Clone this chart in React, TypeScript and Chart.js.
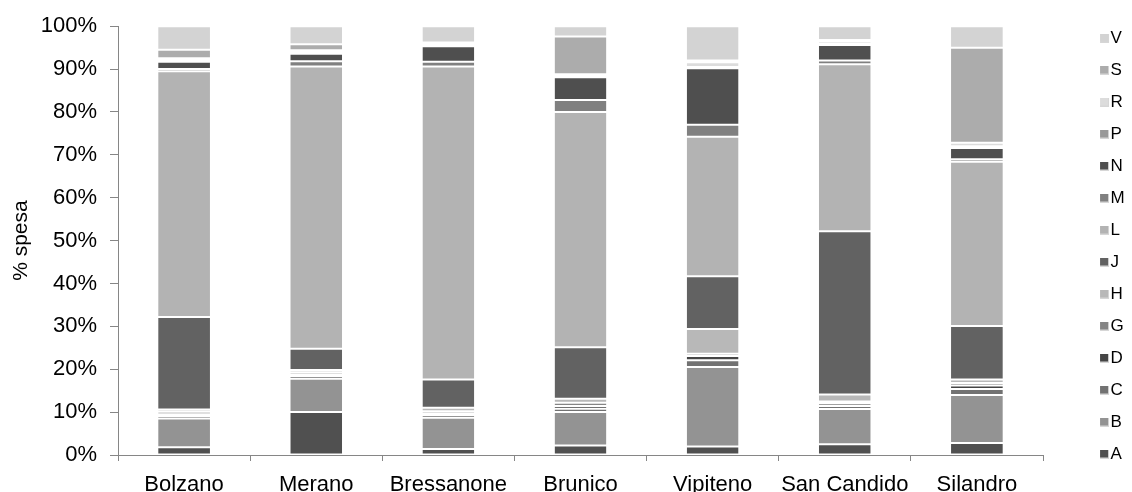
import React, { useEffect, useRef } from "react";
import { Chart, registerables } from "chart.js";

Chart.register(...registerables);

const categories = ["Bolzano", "Merano", "Bressanone", "Brunico", "Vipiteno", "San Candido", "Silandro"];

const seriesNames = ["A", "B", "C", "D", "G", "H", "J", "L", "M", "N", "P", "R", "S", "V"];

const A = [1.8, 10.0, 1.4, 2.2, 2.0, 2.5, 2.8];
const B = [6.7, 7.8, 7.3, 7.8, 18.5, 8.2, 11.2];
const C = [0.6, 0.6, 0.6, 0.8, 1.6, 0.7, 1.4];
const D = [0.4, 0.4, 0.4, 0.6, 1.0, 0.6, 0.8];
const G = [0.6, 0.5, 0.5, 0.8, 0.5, 0.5, 0.6];
const H = [0.5, 0.5, 0.8, 0.9, 5.8, 1.6, 0.8];
const J = [21.6, 5.0, 6.6, 12.0, 12.3, 38.1, 12.5];
const L = [57.3, 65.8, 73.0, 54.9, 32.5, 38.9, 38.3];
const M = [0.5, 1.2, 1.1, 2.8, 2.8, 0.9, 0.6];
const N = [1.7, 1.8, 3.6, 5.3, 13.2, 3.6, 2.6];
const P = [0.4, 0.4, 0.3, 0.4, 0.3, 0.3, 0.4];
const R = [0.4, 0.4, 0.4, 0.3, 1.1, 0.6, 0.8];
const S = [2.0, 1.4, 0.2, 8.8, 0.4, 0.3, 22.2];
const V = [5.5, 4.2, 3.8, 2.4, 8.0, 3.2, 5.0];

const seriesValues = [A, B, C, D, G, H, J, L, M, N, P, R, S, V];

const seriesColors = [
  "#505050", "#939393", "#727272", "#454545", "#858585", "#b8b8b8", "#626262",
  "#b3b3b3", "#808080", "#4f4f4f", "#999999", "#dcdcdc", "#acacac", "#d3d3d3",
];

const yTicks = [0, 10, 20, 30, 40, 50, 60, 70, 80, 90, 100];

const FONT = "'Liberation Sans', Arial, sans-serif";
const AXIS = "#868686";

function legendSwatch(color: string): HTMLCanvasElement {
  const c = document.createElement("canvas");
  c.width = 20;
  c.height = 9;
  const g = c.getContext("2d")!;
  g.fillStyle = color;
  g.fillRect(8, 0, 8, 8);
  g.fillStyle = "#d6d6d6";
  g.fillRect(16, 0, 1, 9);
  g.fillRect(8, 8, 9, 1);
  return c;
}

export default function App() {
  const ref = useRef<HTMLCanvasElement | null>(null);

  useEffect(() => {
    if (!ref.current) return;
    const swatches = seriesColors.map(legendSwatch);
    const chart = new Chart(ref.current, {
      type: "bar",
      data: {
        labels: categories,
        datasets: seriesNames.map((name, i) => ({
          label: name,
          data: seriesValues[i],
          backgroundColor: seriesColors[i],
          borderColor: "#ffffff",
          borderWidth: { top: 1, bottom: 1, left: 0, right: 0 },
          borderSkipped: false,
          categoryPercentage: 1,
          barPercentage: 0.392,
        })),
      },
      options: {
        responsive: false,
        animation: false,
        events: [],
        layout: { padding: 0 },
        plugins: {
          title: {
            display: true,
            text: " ",
            font: { size: 10, family: FONT },
            padding: { top: 14, bottom: 0 },
          },
          tooltip: { enabled: false },
          legend: {
            position: "right",
            reverse: true,
            maxWidth: 45,
            labels: {
              usePointStyle: true,
              pointStyleWidth: 0.01,
              boxHeight: 9,
              padding: 15,
              color: "#000000",
              font: { size: 17, family: FONT },
              generateLabels: (ch: any) =>
                ch.data.datasets.map((ds: any, i: number) => ({
                  text: ds.label,
                  fillStyle: ds.backgroundColor,
                  strokeStyle: "#d6d6d6",
                  lineWidth: 0,
                  pointStyle: swatches[i],
                  datasetIndex: i,
                  hidden: false,
                  fontColor: "#000000",
                })),
            },
          },
        },
        scales: {
          x: {
            stacked: true,
            grid: {
              display: true,
              drawOnChartArea: false,
              drawTicks: true,
              tickLength: 6,
              color: AXIS,
              offset: true,
            },
            border: { display: true, color: AXIS, width: 1 },
            ticks: {
              color: "#000000",
              font: { size: 22, family: FONT },
              padding: 11,
              maxRotation: 0,
              autoSkip: false,
            },
            afterFit: (s: any) => {
              s.height = 37;
            },
          },
          y: {
            stacked: true,
            min: 0,
            max: 100,
            afterBuildTicks: (s: any) => {
              s.ticks = yTicks.map((v) => ({ value: v }));
            },
            grid: {
              display: true,
              drawOnChartArea: false,
              drawTicks: true,
              tickLength: 8,
              color: AXIS,
            },
            border: { display: true, color: AXIS, width: 1 },
            ticks: {
              color: "#000000",
              font: { size: 22, family: FONT },
              padding: 13,
              callback: (v: any) => v + "%",
            },
            title: {
              display: true,
              text: "% spesa",
              color: "#000000",
              font: { size: 21, family: FONT },
              padding: { top: 9, bottom: 0 },
            },
            afterFit: (s: any) => {
              s.width = 118;
            },
          },
          yRight: {
            type: "linear",
            position: "right",
            display: true,
            grid: { display: false },
            border: { display: false },
            ticks: { display: false },
            afterFit: (s: any) => {
              s.width = 44;
            },
          },
        },
      },
    } as any);
    return () => chart.destroy();
  }, []);

  return (
    <div style={{ position: "fixed", left: 0, top: 0, width: 1132, height: 492, background: "#ffffff" }}>
      <canvas ref={ref} width={1132} height={492} style={{ display: "block" }} />
    </div>
  );
}
